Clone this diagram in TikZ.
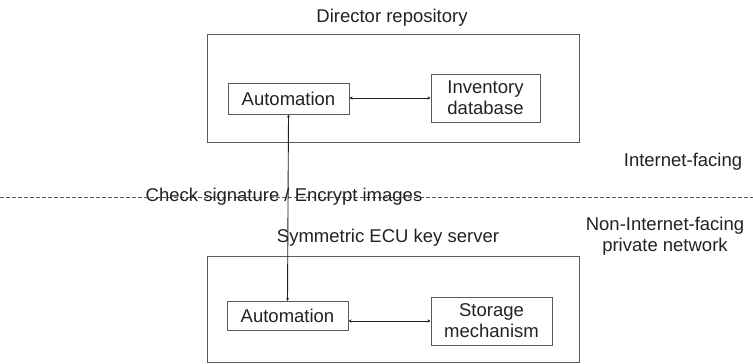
\documentclass[tikz,border=0pt]{standalone}
\usepackage{fontspec}
\setmainfont{Liberation Sans}
\usetikzlibrary{arrows.meta}
\definecolor{boxgray}{HTML}{5A5A5A}
\definecolor{txt}{HTML}{222222}
\tikzset{
  every node/.style={text=txt, font=\fontsize{18.5}{21}\selectfont},
  outerbox/.style={draw=boxgray, line width=1pt},
  innerbox/.style={draw=boxgray, line width=1pt, inner sep=0pt, align=center},
  link/.style={draw=txt, line width=0.9pt, {Stealth[length=3pt,width=3pt]}-{Stealth[length=3pt,width=3pt]}},
  lbl/.style={inner sep=0pt, align=center},
  divider/.style={draw=boxgray, line width=0.8pt, dash pattern=on 4pt off 2pt}
}
\begin{document}
\begin{tikzpicture}[x=1pt,y=-1pt]
\useasboundingbox (0,0) rectangle (753,364);
% outer boxes
\draw[outerbox] (207,34) rectangle (579,142);
\draw[outerbox] (207,256) rectangle (579,362.5);
% labels
\node[lbl] (dirlbl) at (392,18) {Director repository};
\node[lbl] (symlbl) at (388,238) {Symmetric ECU key server};
\node[lbl] (inet) at (683,162) {Internet-facing};
\node[lbl] (noninet) at (665,236) {Non-Internet-facing\\private network};
% divider
\coordinate (dl) at (0,197);
\coordinate (dr) at (753,197);
\draw[divider] (dl) -- (dr);
% inner nodes
\node[innerbox, minimum width=121pt, minimum height=31pt] (autoT) at (288.5,98.5) {Automation};
\node[innerbox, minimum width=109pt, minimum height=48pt] (inv) at (485.5,98) {Inventory\\database};
\node[innerbox, minimum width=121pt, minimum height=29pt] (autoB) at (287.5,316) {Automation};
\node[innerbox, minimum width=121pt, minimum height=48pt] (stor) at (491.5,321) {Storage\\mechanism};
% connectors
\draw[link] (autoT.east |- 0,98) -- (inv.west |- 0,98);
\draw[link] (autoB.east |- 0,321) -- (stor.west |- 0,321);
\draw[link] (autoT.south) -- (autoB.north);
% label on divider
\node[lbl] (chk) at (284,197) {Check signature / Encrypt images};
\end{tikzpicture}
\end{document}
